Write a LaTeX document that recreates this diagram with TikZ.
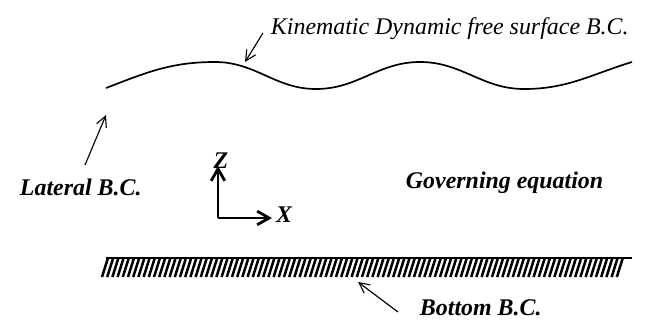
\documentclass[tikz,border=0pt]{standalone}
\usepackage{fontspec}
\setmainfont{Liberation Serif}
\usepackage{tikz}
\usetikzlibrary{arrows.meta}

\begin{document}
\begin{tikzpicture}[
  x=0.025cm, y=0.025cm,
  font=\fontsize{17}{20}\selectfont\itshape,
  pointer/.style={-{Straight Barb[length=2.6mm,width=2.6mm]}, line width=0.8pt},
  axis/.style={-{Straight Barb[length=3mm,width=3.4mm]}, line width=2pt},
  hatchline/.style={line width=1.8pt},
  heavy/.style={font=\fontsize{17}{20}\selectfont\itshape\bfseries}
]
  \useasboundingbox (0,0) rectangle (670,325);

  \draw[line width=1.2pt] (106,237) to[out=21,in=180] (215,263)
    to[out=0,in=180] (316,236) to[out=0,in=180] (420,263)
    to[out=0,in=180] (524,236) to[out=0,in=197] (632,263);

  \draw[line width=1pt] (106,67) -- (632,67);
  \foreach \i in {0,...,99}
    \draw[hatchline] (102+5.2*\i,48) -- ++(6,19);

  \node[anchor=base west] (kinlabel) at (266,291) {Kinematic Dynamic free surface B.C.};
  \node[heavy, anchor=base west] (latlabel) at (15,130) {Lateral B.C.};
  \node[heavy, anchor=base west] (govlabel) at (401,137) {Governing equation};
  \node[heavy, anchor=base west] (botlabel) at (415,10) {Bottom B.C.};

  \coordinate (kintail) at (263,292);
  \coordinate (kintip) at (245,263);
  \coordinate (lattail) at (85,160);
  \coordinate (lattip) at (106,210);
  \coordinate (bottail) at (398,13);
  \coordinate (bottip) at (358,43);

  \draw[pointer] (kintail) -- (kintip);
  \draw[pointer] (lattail) -- (lattip);
  \draw[pointer] (bottail) -- (bottip);

  \coordinate (origin) at (218,107);
  \node[heavy] (zlabel) at (221,164) {Z};
  \node[heavy] (xlabel) at (284,110) {X};
  \draw[axis] (origin) -- (218,159);
  \draw[axis] (origin) -- (272,107);
\end{tikzpicture}
\end{document}
